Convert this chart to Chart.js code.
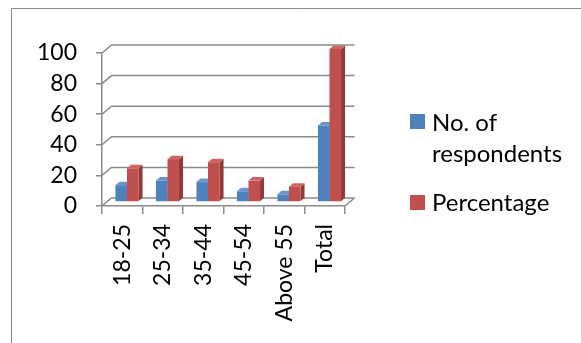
<!DOCTYPE html>
<html>
<head>
<meta charset="utf-8">
<script src="https://cdn.jsdelivr.net/npm/chart.js@4.4.0/dist/chart.umd.min.js"></script>
<style>
  html, body { margin: 0; padding: 0; background: #fff; }
  #wrap { position: relative; width: 581px; height: 343px; }
</style>
</head>
<body>
<div id="wrap"><canvas id="chart" width="581" height="343"></canvas></div>
<script>
// data
const categories = ['18-25', '25-34', '35-44', '45-54', 'Above 55', 'Total'];
const respondents = [11, 14, 13, 7, 5, 50];
const percentage = [22, 28, 26, 14, 10, 100];
const yTicks = [0, 20, 40, 60, 80, 100];

const FONT = 'Lato';
const GRID = '#8a8a8a';
// depth of the 3d box (walls) and of each bar
const WALL_DX = 9.5, WALL_DY = 8;
const BAR_DX = 4, BAR_DY = 3.5;

const faces = [
  { side: '#3a6497', top: '#6b95c9' },
  { side: '#8e3b39', top: '#cf6663' }
];

const threeD = {
  id: 'threeD',
  beforeDraw(chart) {
    const ctx = chart.ctx;
    // outer frame (only top/left visible)
    ctx.save();
    ctx.strokeStyle = GRID;
    ctx.lineWidth = 1;
    ctx.beginPath();
    ctx.moveTo(11.5, 343);
    ctx.lineTo(11.5, 8.5);
    ctx.lineTo(581, 8.5);
    ctx.stroke();
    ctx.restore();
  },
  beforeDatasetsDraw(chart) {
    const ctx = chart.ctx;
    const { left, right, bottom } = chart.chartArea;
    const y = chart.scales.y;
    ctx.save();
    ctx.strokeStyle = GRID;
    ctx.lineWidth = 1.5;
    yTicks.forEach(v => {
      const py = y.getPixelForValue(v);
      ctx.beginPath();
      ctx.moveTo(left, py);
      ctx.lineTo(left + WALL_DX, py - WALL_DY);
      ctx.lineTo(right + WALL_DX, py - WALL_DY);
      ctx.stroke();
    });
    ctx.beginPath();
    ctx.moveTo(right, bottom);
    ctx.lineTo(right + WALL_DX, bottom - WALL_DY);
    ctx.stroke();
    ctx.restore();

    // bars sit in the middle of the box depth
    ctx.save();
    ctx.translate(WALL_DX / 2, -WALL_DY / 2);
    chart.data.datasets.forEach((ds, i) => {
      chart.getDatasetMeta(i).data.forEach(bar => {
        const { x, y: top, base, width } = bar.getProps(['x', 'y', 'base', 'width'], true);
        const l = x - width / 2, r = x + width / 2;
        ctx.fillStyle = faces[i].side;
        ctx.beginPath();
        ctx.moveTo(r, top);
        ctx.lineTo(r + BAR_DX, top - BAR_DY);
        ctx.lineTo(r + BAR_DX, base - BAR_DY);
        ctx.lineTo(r, base);
        ctx.closePath();
        ctx.fill();
        ctx.fillStyle = faces[i].top;
        ctx.beginPath();
        ctx.moveTo(l, top);
        ctx.lineTo(l + BAR_DX, top - BAR_DY);
        ctx.lineTo(r + BAR_DX, top - BAR_DY);
        ctx.lineTo(r, top);
        ctx.closePath();
        ctx.fill();
      });
    });
  },
  afterDatasetsDraw(chart) {
    chart.ctx.restore();
  },
  afterDraw(chart) {
    // legend
    const ctx = chart.ctx;
    ctx.save();
    ctx.font = '24px ' + FONT;
    ctx.textBaseline = 'alphabetic';
    ctx.fillStyle = '#4f81bd';
    ctx.fillRect(410, 114, 15, 15);
    ctx.fillStyle = '#c0504d';
    ctx.fillRect(410, 195, 15, 15);
    ctx.fillStyle = '#000';
    ctx.fillText('No. of', 432, 131);
    ctx.fillText('respondents', 432, 162);
    ctx.fillText('Percentage', 432, 211);
    ctx.restore();
  }
};

new Chart(document.getElementById('chart'), {
  type: 'bar',
  data: {
    labels: categories,
    datasets: [
      { label: 'No. of respondents', data: respondents, backgroundColor: '#4f81bd' },
      { label: 'Percentage', data: percentage, backgroundColor: '#c0504d' }
    ]
  },
  options: {
    responsive: false,
    animation: false,
    devicePixelRatio: 1,
    layout: { padding: { top: 53, right: 236, bottom: 0, left: 0 } },
    datasets: {
      bar: { barPercentage: 1, categoryPercentage: 0.57, borderWidth: 0, clip: false }
    },
    plugins: {
      legend: { display: false },
      tooltip: { enabled: false }
    },
    scales: {
      x: {
        afterFit(scale) { scale.height = 137; },
        grid: { offset: true, drawOnChartArea: false, tickLength: 8, color: GRID, lineWidth: 1.5 },
        border: { color: GRID, width: 1.5 },
        ticks: {
          minRotation: 90, maxRotation: 90, padding: 10,
          color: '#000', font: { family: FONT, size: 23 }
        }
      },
      y: {
        min: 0, max: 100,
        afterFit(scale) { scale.width = 102; },
        afterBuildTicks(scale) { scale.ticks = yTicks.map(v => ({ value: v })); },
        grid: { drawOnChartArea: false, tickLength: 6, color: GRID, lineWidth: 1.5 },
        border: { color: GRID, width: 1.5 },
        ticks: { padding: 19, color: '#000', font: { family: FONT, size: 23 } }
      }
    }
  },
  plugins: [threeD]
});
</script>
</body>
</html>
